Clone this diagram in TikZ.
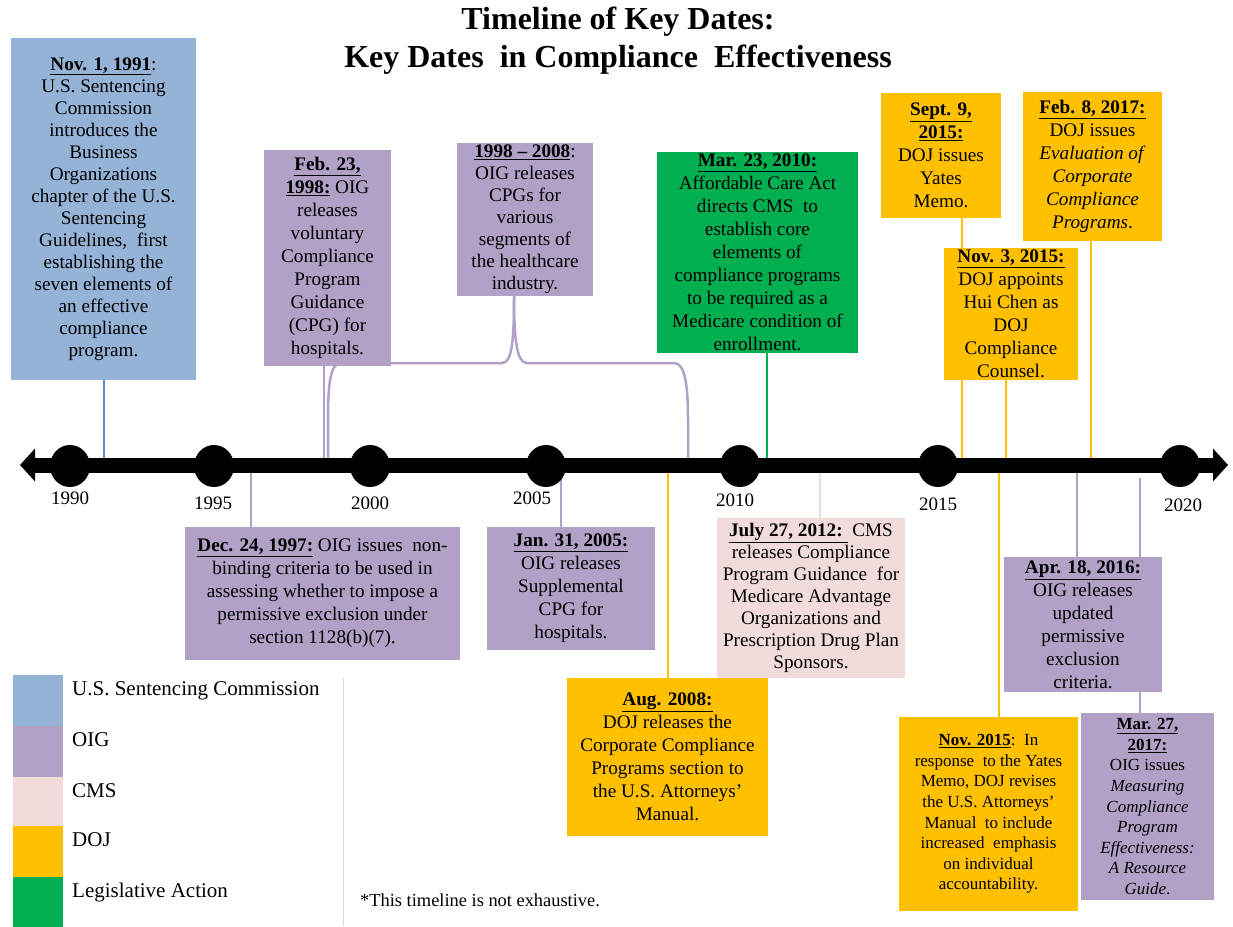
\documentclass[tikz,border=0pt]{standalone}
\usepackage{fontspec}
\setmainfont{Liberation Serif}
\usetikzlibrary{arrows.meta,backgrounds}

\definecolor{usscblue}{HTML}{95B3D7}
\definecolor{usscline}{HTML}{5B8BC8}
\definecolor{oigpurple}{HTML}{B2A1C7}
\definecolor{cmspink}{HTML}{F2DCDB}
\definecolor{dojgold}{HTML}{FFC000}
\definecolor{leggreen}{HTML}{00B050}

\newcommand{\kd}[1]{\underline{\textbf{#1}}}
\newcommand{\evfont}{\fontsize{19.2}{23}\selectfont}
\newcommand{\evtight}{\fontsize{19.2}{22}\selectfont}
\newcommand{\evsmall}{\fontsize{17}{20.6}\selectfont}
\newcommand{\legfont}{\fontsize{21}{24}\selectfont}

\tikzset{
  evbox/.style={inner sep=0pt, align=center, font=\evfont},
  ussc/.style={evbox, fill=usscblue},
  oig/.style={evbox, fill=oigpurple},
  cms/.style={evbox, fill=cmspink},
  doj/.style={evbox, fill=dojgold},
  legis/.style={evbox, fill=leggreen},
  tick/.style={line width=2.5pt},
  yearlbl/.style={font=\fontsize{19}{22}\selectfont, inner sep=0pt}
}

\begin{document}
\begin{tikzpicture}[x=1pt,y=-1pt]
\useasboundingbox (0,0) rectangle (1233,926);

% title
\node[font=\bfseries\fontsize{32}{38}\selectfont, align=center] (title) at (618,41)
  {Timeline of Key Dates:\\Key Dates\ \ in\ Compliance\ \ Effectiveness};

% event boxes above the line
\node[ussc, font=\evtight, minimum width=185pt, minimum height=342pt] (nov91) at (103.5,209)
  {\kd{Nov. 1, 1991}:\\U.S. Sentencing\\Commission\\introduces the\\Business\\Organizations\\chapter of the U.S.\\Sentencing\\Guidelines,\ \ first\\establishing the\\seven elements of\\an effective\\compliance\\program.};
\node[oig, minimum width=127pt, minimum height=216pt] (feb98) at (327.5,258)
  {\kd{Feb. 23,}\\\kd{1998:} OIG\\releases\\voluntary\\Compliance\\Program\\Guidance\\(CPG) for\\hospitals.};
\node[oig, font=\evtight, minimum width=136pt, minimum height=153pt] (y9808) at (525,219.5)
  {\kd{1998 -- 2008}:\\OIG releases\\CPGs for\\various\\segments of\\the healthcare\\industry.};
\node[legis, minimum width=201pt, minimum height=201pt] (mar10) at (757.5,252.5)
  {\kd{Mar. 23, 2010:}\\Affordable Care Act\\directs CMS\ \ to\\establish core\\elements of\\compliance programs\\to be required as a\\Medicare condition of\\enrollment.};
\node[doj, minimum width=120pt, minimum height=125pt] (sep15) at (941,155.5)
  {\kd{Sept. 9,}\\\kd{2015:}\\DOJ issues\\Yates\\Memo.};
\node[doj, minimum width=139pt, minimum height=149pt] (feb17) at (1092.5,166.5)
  {\kd{Feb. 8, 2017:}\\DOJ issues\\\textit{Evaluation of}\\\textit{Corporate}\\\textit{Compliance}\\\textit{Programs}.};
\node[doj, minimum width=134pt, minimum height=132pt] (nov315) at (1011,314)
  {\kd{Nov. 3, 2015:}\\DOJ appoints\\Hui Chen as\\DOJ\\Compliance\\Counsel.};

% event boxes below the line
\node[oig, minimum width=275pt, minimum height=133pt] (dec97) at (322.5,593.5)
  {\kd{Dec. 24, 1997:} OIG issues\ \ non-\\binding criteria to be used in\\assessing whether to impose a\\permissive exclusion under\\section 1128(b)(7).};
\node[oig, minimum width=168pt, minimum height=123pt] (jan05) at (571,588.5)
  {\kd{Jan. 31, 2005:}\\OIG releases\\Supplemental\\CPG for\\hospitals.};
\node[cms, font=\evtight, minimum width=188pt, minimum height=160pt] (jul12) at (811,598)
  {\kd{July 27, 2012:\ }\ CMS\\releases Compliance\\Program Guidance\ \ for\\Medicare Advantage\\Organizations and\\Prescription Drug Plan\\Sponsors.};
\node[doj, minimum width=201pt, minimum height=158pt] (aug08) at (667.5,757)
  {\kd{Aug. 2008:}\\DOJ releases the\\Corporate Compliance\\Programs section to\\the U.S. Attorneys'\\Manual.};
\node[oig, minimum width=158pt, minimum height=135pt] (apr16) at (1083,624.5)
  {\kd{Apr. 18, 2016:}\\OIG releases\\updated\\permissive\\exclusion\\criteria.};
\node[doj, font=\evsmall, minimum width=179pt, minimum height=194pt] (nov15) at (988.5,814)
  {\kd{Nov. 2015}:\ \ In\\response\ \ to the Yates\\Memo, DOJ revises\\the U.S. Attorneys'\\Manual\ \ to include\\increased\ \ emphasis\\on individual\\accountability.};
\node[oig, font=\evsmall, minimum width=133pt, minimum height=187pt] (mar17) at (1147.5,806.5)
  {\kd{Mar. 27,}\\\kd{2017:}\\OIG issues\\\textit{Measuring}\\\textit{Compliance}\\\textit{Program}\\\textit{Effectiveness:}\\\textit{A Resource}\\\textit{Guide}.};

% dates on the line
\coordinate (d91) at (104,465);
\coordinate (dfeb98) at (324,465);
\coordinate (b98) at (328,465);
\coordinate (b08) at (688,465);
\coordinate (dmar10) at (767,465);
\coordinate (dsep15) at (962,465);
\coordinate (dnov315) at (1006,465);
\coordinate (dfeb17) at (1091,465);
\coordinate (ddec97) at (251,465);
\coordinate (djan05) at (561,465);
\coordinate (daug08) at (668,465);
\coordinate (djul12) at (820,465);
\coordinate (dnov15) at (999,465);
\coordinate (dapr16) at (1077,465);
\coordinate (dmar17) at (1140,478);

\begin{pgfonlayer}{background}
\draw[tick, usscline] (nov91.south -| d91) -- (d91);
\draw[tick, oigpurple] (feb98.south -| dfeb98) -- (dfeb98);
\draw[tick, oigpurple] ([xshift=-11pt]y9808.south) .. controls +(0,45) and +(10,0) .. (502,363)
  -- (341,363) .. controls +(-11,0) and +(0,-35) .. (328,420) -- (b98);
\draw[tick, oigpurple] ([xshift=-11pt]y9808.south) .. controls +(0,45) and +(-10,0) .. (527,363)
  -- (674,363) .. controls +(11,0) and +(0,-35) .. (688,420) -- (b08);
\draw[tick, leggreen] (mar10.south -| dmar10) -- (dmar10);
\draw[tick, dojgold] (sep15.south -| dsep15) -- (dsep15);
\draw[tick, dojgold] (nov315.south -| dnov315) -- (dnov315);
\draw[tick, dojgold] (feb17.south -| dfeb17) -- (dfeb17);
\draw[tick, oigpurple] (dec97.north -| ddec97) -- (ddec97);
\draw[tick, oigpurple] (jan05.north -| djan05) -- (djan05);
\draw[tick, dojgold] (aug08.north -| daug08) -- (daug08);
\draw[tick, cmspink] (jul12.north -| djul12) -- (djul12);
\draw[tick, dojgold] (nov15.north -| dnov15) -- (dnov15);
\draw[tick, oigpurple] (apr16.north -| dapr16) -- (dapr16);
\draw[tick, oigpurple] (mar17.north -| dmar17) -- (dmar17);
\end{pgfonlayer}

% the line
\draw[line width=15pt, {Triangle[length=15pt,width=32pt]}-{Triangle[length=15pt,width=32pt]}] (20,465) -- (1228,465);
\foreach \yr/\cx/\lx/\ly in {1990/70/70/498, 1995/214/213/503, 2000/370/370/503, 2005/546/532/498, 2010/740/735/500, 2015/938/938/504, 2020/1180/1183/505}{
  \fill (\cx,466) ellipse [x radius=20pt, y radius=21pt];
  \node[yearlbl] (yr\yr) at (\lx,\ly) {\yr};
}

% legend
\foreach \c/\lbl/\yy [count=\i] in {usscblue/U.S. Sentencing Commission/675, oigpurple/OIG/726, cmspink/CMS/777, dojgold/DOJ/826, leggreen/Legislative Action/877}{
  \node[fill=\c, inner sep=0pt, minimum width=50pt, minimum height=51pt, anchor=north west] (sw\i) at (13,\yy) {};
  \node[font=\legfont, inner sep=0pt, anchor=base west] (lg\i) at (72,\yy+20) {\lbl};
}
\draw[black!15, line width=1pt] (343,678) -- (343,926);
\node[font=\fontsize{18.4}{22}\selectfont, inner sep=0pt, anchor=base west] (note) at (360,906)
  {*This timeline is not exhaustive.};
\end{tikzpicture}
\end{document}
